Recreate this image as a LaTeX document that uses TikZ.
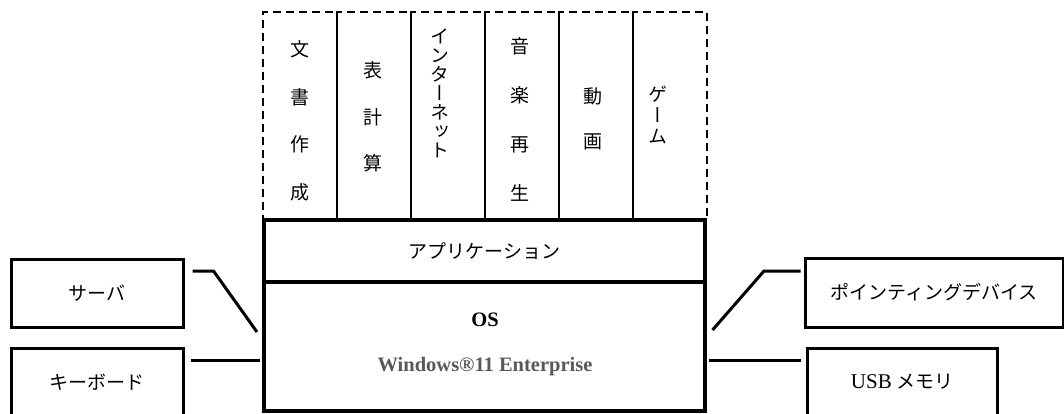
\documentclass[tikz,border=0pt]{standalone}
\usepackage{fontspec}
\setmainfont{Liberation Serif}
\newfontfamily\cjk{Noto Sans CJK JP}
\newfontfamily\cjkv[RawFeature=+vert]{Noto Sans CJK JP}
\usetikzlibrary{calc}
\definecolor{wingray}{HTML}{595959}
\tikzset{
  appcol/.style={draw, dash pattern=on 8pt off 5pt, line width=2pt, minimum width=74pt, minimum height=208pt, inner sep=0pt},
  bigbox/.style={draw, line width=4pt, inner sep=0pt, minimum width=441pt},
  devbox/.style={draw, line width=3pt, minimum height=68pt, inner sep=0pt, font=\cjk\fontsize{19}{23}\selectfont},
  link/.style={line width=3pt},
  vlabel/.style={align=center, inner sep=0pt, font=\cjkv\fontsize{19}{#1}\selectfont},
  ostext/.style={inner sep=0pt, font=\bfseries\fontsize{20.5}{24}\selectfont}
}
\begin{document}
\begin{tikzpicture}[x=1pt,y=-1pt]
\useasboundingbox (0,0) rectangle (1064,414);
\clip (0,0) rectangle (1064,414);
% application columns
\node[appcol] (c1) at (300,116) {};
\node[appcol] (c2) at (374,116) {};
\node[appcol] (c3) at (448,116) {};
\node[appcol] (c4) at (522,116) {};
\node[appcol] (c5) at (596,116) {};
\node[appcol] (c6) at (670,116) {};
\node[vlabel=47.5] (t1) at (300,121) {文\\書\\作\\成};
\node[vlabel=46.5] (t2) at (373,117) {表\\計\\算};
\node[vlabel=19] (t3) at (440,93) {イ\\ン\\タ\\ー\\ネ\\ッ\\ト};
\node[vlabel=49] (t4) at (520,119) {音\\楽\\再\\生};
\node[vlabel=45] (t5) at (593,119) {動\\画};
\node[vlabel=21] (t6) at (658,115) {ゲ\\ー\\ム};
% application and OS layers
\node[bigbox, minimum height=62pt, font=\cjk\fontsize{19}{23}\selectfont] (app) at (484.5,251) {アプリケーション};
\node[bigbox, minimum height=129pt] (os) at (484.5,346.5) {};
\node[ostext] (osname) at (485,320) {OS};
\node[ostext, text=wingray] (win) at (485,367) {Windows®11 Enterprise};
% devices
\node[devbox, minimum width=172pt] (server) at (97,293) {サーバ};
\node[devbox, minimum width=172pt] (keyboard) at (97,382) {キーボード};
\node[devbox, minimum width=258pt, minimum height=69pt] (pointing) at (934,292.5) {ポインティングデバイス};
\node[devbox, minimum width=190pt] (usb) at (902,382) {{\rmfamily\fontsize{21}{23}\selectfont USB} メモリ};
% connectors
\draw[link] ($(server.east)+(8,-22)$) -- ++(21,0) -- ($(os.west)+(-5,-14.5)$);
\draw[link] ($(keyboard.east)+(6,-22)$) -- ($(os.west)+(-2,13.5)$);
\draw[link] ($(os.east)+(5.5,-16.5)$) -- ++(51.5,-59) -- ($(pointing.west)+(-3,-21.5)$);
\draw[link] ($(os.east)+(2,13.5)$) -- ($(usb.west)+(-5,-22)$);
\end{tikzpicture}
\end{document}
